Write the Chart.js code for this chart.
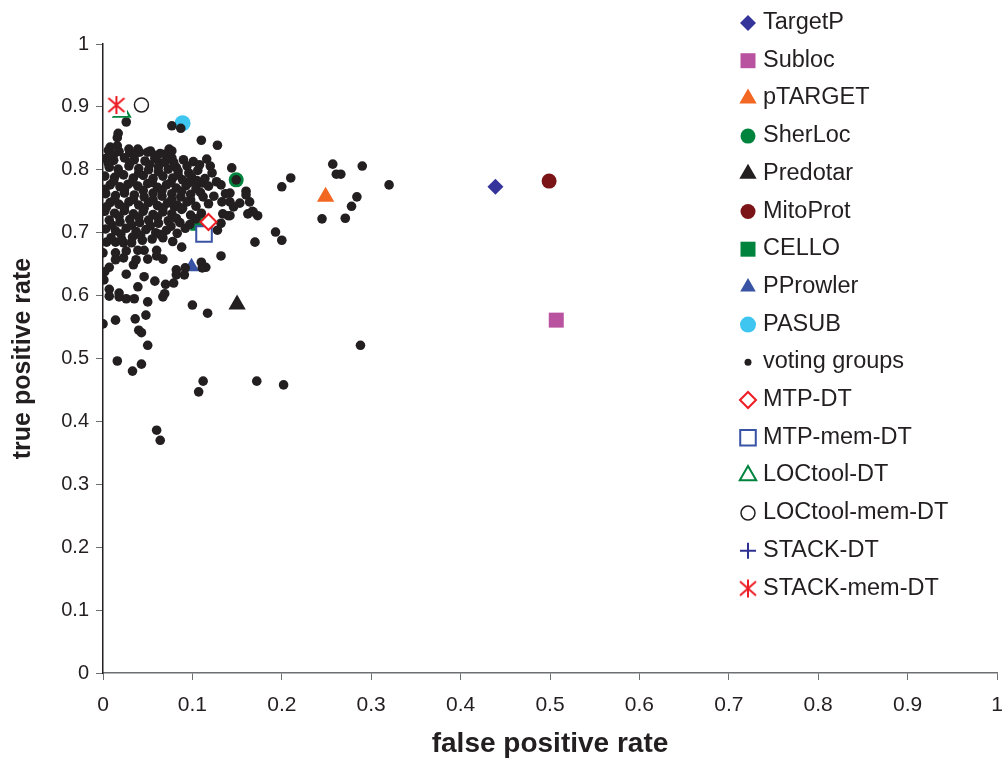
<!DOCTYPE html>
<html>
<head>
<meta charset="utf-8">
<script src="https://cdn.jsdelivr.net/npm/chart.js@4/dist/chart.umd.min.js"></script>
<style>
  body { margin: 0; background: #fff; }
  canvas { display: block; }
</style>
</head>
<body>
<canvas id="rocChart" width="1003" height="764"></canvas>
<script>
const xTickLabels = ["0", "0.1", "0.2", "0.3", "0.4", "0.5", "0.6", "0.7", "0.8", "0.9", "1"];
const yTickLabels = ["0", "0.1", "0.2", "0.3", "0.4", "0.5", "0.6", "0.7", "0.8", "0.9", "1"];

// single predictors
const toolNames = ["TargetP", "Subloc", "pTARGET", "SherLoc", "Predotar", "MitoProt", "CELLO", "PProwler", "PASUB"];
const toolFpr = [0.439, 0.507, 0.249, 0.149, 0.150, 0.499, 0.106, 0.099, 0.089];
const toolTpr = [0.773, 0.561, 0.757, 0.784, 0.586, 0.782, 0.715, 0.646, 0.874];

// decision tree combinations
const dtNames = ["MTP-DT", "MTP-mem-DT", "LOCtool-DT", "LOCtool-mem-DT", "STACK-DT", "STACK-mem-DT"];
const dtFpr = [0.118, 0.113, 0.021, 0.043, 0.015, 0.015];
const dtTpr = [0.717, 0.698, 0.892, 0.903, 0.903, 0.903];

// voting groups (fpr, tpr)
const votingPoints = [
  [0.026,0.876],[0.017,0.858],[0.016,0.851],[0.077,0.870],[0.087,0.866],[0.110,0.847],[0.128,0.839],
  [0.116,0.817],[0.120,0.806],[0.144,0.803],[0.149,0.784],
  [0.257,0.809],[0.290,0.806],[0.266,0.793],[0.261,0.793],[0.210,0.787],[0.200,0.773],[0.320,0.776],
  [0.284,0.757],[0.278,0.742],[0.245,0.722],[0.271,0.723],
  [0.193,0.701],[0.200,0.688],[0.170,0.685],[0.132,0.663],[0.115,0.645],[0.117,0.572],[0.288,0.521],
  [0.160,0.766],[0.160,0.760],[0.153,0.747],[0.167,0.734],[0.173,0.727],[0.162,0.730],[0.146,0.741],
  [0.140,0.727],[0.132,0.715],[0.128,0.704],
  [0.016,0.496],[0.033,0.480],[0.043,0.491],[0.112,0.464],[0.107,0.447],[0.172,0.464],[0.202,0.458],
  [0.060,0.386],[0.064,0.370],
  [0.100,0.585],[0.000,0.555],[0.014,0.561],[0.036,0.563],[0.048,0.569],[0.040,0.545],[0.043,0.541],[0.050,0.521],
  [0.002,0.638],[0.001,0.625],[0.007,0.610],[0.007,0.599],[0.018,0.604],[0.018,0.598],[0.026,0.595],
  [0.035,0.595],[0.050,0.590],[0.039,0.614],[0.046,0.630],[0.058,0.623],[0.026,0.634],[0.070,0.618],
  [0.079,0.620],[0.082,0.633],[0.091,0.633],[0.069,0.603],[0.067,0.598],[0.092,0.644],[0.110,0.653],[0.088,0.677],
  [0.007,0.645],[0.014,0.657],[0.023,0.660],[0.034,0.649],[0.037,0.657],[0.050,0.658],[0.060,0.663],
  [0.067,0.658],[0.060,0.672],[0.046,0.672],[0.039,0.672],[0.026,0.671],[0.014,0.668],[0.000,0.668],
  [0.004,0.685],[0.014,0.685],[0.032,0.684],[0.023,0.684],
  [0.082,0.641],[0.111,0.644],[0.089,0.739],[0.080,0.741],[0.134,0.730],[0.142,0.727],[0.168,0.733],
  [0.164,0.749],[0.142,0.749],[0.133,0.749],
  [0.122,0.795],[0.106,0.799],[0.096,0.795],[0.077,0.830],[0.077,0.819],[0.082,0.804],[0.127,0.781],
  [0.111,0.779],[0.142,0.763],
  [0.008,0.836],[0.016,0.838],[0.039,0.833],[0.050,0.828],[0.030,0.827],[0.070,0.825],[0.074,0.833],[0.063,0.811],
  // dense core
  [0.006,0.831],[0.018,0.829],[0.029,0.833],[0.041,0.828],[0.053,0.830],[0.064,0.826],
  [0.003,0.818],[0.012,0.815],[0.024,0.819],[0.035,0.816],[0.047,0.814],[0.058,0.818],[0.069,0.812],[0.090,0.816],[0.101,0.813],
  [0.007,0.804],[0.017,0.801],[0.029,0.806],[0.040,0.802],[0.051,0.800],[0.062,0.805],[0.073,0.801],[0.084,0.798],[0.094,0.806],[0.108,0.808],
  [0.002,0.790],[0.013,0.788],[0.023,0.792],[0.034,0.787],[0.045,0.791],[0.056,0.786],[0.067,0.790],[0.078,0.787],[0.089,0.784],[0.099,0.789],[0.114,0.786],
  [0.008,0.776],[0.019,0.773],[0.028,0.777],[0.039,0.774],[0.050,0.778],[0.061,0.772],[0.071,0.776],[0.082,0.771],[0.093,0.775],[0.104,0.770],[0.118,0.774],[0.132,0.776],
  [0.003,0.762],[0.014,0.759],[0.024,0.763],[0.035,0.760],[0.046,0.757],[0.056,0.763],[0.066,0.758],[0.077,0.762],[0.087,0.757],[0.098,0.761],[0.109,0.764],[0.124,0.758],[0.137,0.762],
  [0.008,0.748],[0.018,0.745],[0.029,0.749],[0.040,0.744],[0.051,0.748],[0.061,0.743],[0.072,0.747],[0.083,0.744],[0.094,0.749],[0.104,0.742],[0.118,0.746],
  [0.002,0.734],[0.013,0.731],[0.024,0.735],[0.034,0.730],[0.045,0.734],[0.056,0.729],[0.067,0.733],[0.077,0.730],[0.098,0.728],[0.110,0.731],
  [0.007,0.720],[0.019,0.717],[0.030,0.721],[0.041,0.716],[0.051,0.720],[0.062,0.715],[0.073,0.719],[0.086,0.716],[0.097,0.713],
  [0.003,0.706],[0.014,0.703],[0.026,0.707],[0.037,0.702],[0.048,0.705],[0.059,0.700],[0.071,0.704],[0.083,0.699],[0.092,0.707],
  [0.009,0.692],[0.021,0.689],[0.033,0.693],[0.044,0.688],[0.055,0.690],[0.067,0.692],[0.078,0.686],
  [0.012,0.824],[0.035,0.823],[0.058,0.823],[0.006,0.810],[0.030,0.811],[0.052,0.808],[0.079,0.812],
  [0.018,0.796],[0.040,0.795],[0.062,0.797],[0.084,0.792],[0.105,0.783],[0.012,0.782],[0.033,0.781],
  [0.055,0.780],[0.076,0.780],[0.097,0.780],[0.002,0.769],[0.024,0.768],[0.045,0.767],[0.066,0.767],
  [0.088,0.766],[0.112,0.757],[0.013,0.753],[0.034,0.753],[0.056,0.752],[0.077,0.753],[0.098,0.752],
  [0.004,0.741],[0.024,0.740],[0.046,0.739],[0.067,0.739],[0.088,0.737],[0.018,0.726],[0.040,0.725],
  [0.061,0.725],[0.082,0.723],[0.104,0.722],[0.010,0.712],[0.032,0.712],[0.053,0.711],[0.076,0.710],
  [0.020,0.698],[0.042,0.696],[0.064,0.697]
];

const FONT = '"Liberation Sans", Arial, Helvetica, sans-serif';
const TEXT = "#231f20";
Chart.defaults.font.family = FONT;

// red asterisk marker (vertical bar + X) on a small white patch
const asterisk = document.createElement("canvas");
asterisk.width = 22;
asterisk.height = 22;
(function () {
  const c = asterisk.getContext("2d");
  c.fillStyle = "#fff";
  c.fillRect(0, 0, 22, 22);
  c.strokeStyle = "#ed1c24";
  c.lineWidth = 2;
  c.beginPath();
  c.moveTo(11, 2); c.lineTo(11, 20);
  c.moveTo(3, 4); c.lineTo(19, 18);
  c.moveTo(19, 4); c.lineTo(3, 18);
  c.stroke();
})();

// marker styles, same order as the legend
const toolStyles = [
  { pointStyle: "rectRot", radius: 8, bg: "#34349a", border: "#34349a", bw: 0 },
  { pointStyle: "rect", radius: 10.6, bg: "#b9529f", border: "#b9529f", bw: 0 },
  { pointStyle: "triangle", radius: 10, bg: "#f26722", border: "#f26722", bw: 0 },
  { pointStyle: "circle", radius: 7.5, bg: "#00843d", border: "#00843d", bw: 0 },
  { pointStyle: "triangle", radius: 10, bg: "#231f20", border: "#231f20", bw: 0 },
  { pointStyle: "circle", radius: 7.5, bg: "#7b1416", border: "#7b1416", bw: 0 },
  { pointStyle: "rect", radius: 10.6, bg: "#00843d", border: "#00843d", bw: 0 },
  { pointStyle: "triangle", radius: 9, bg: "#3853a4", border: "#3853a4", bw: 0 },
  { pointStyle: "circle", radius: 8, bg: "#3ec6f0", border: "#3ec6f0", bw: 0 }
];
const votingStyle = { pointStyle: "circle", radius: 4.8, bg: "#231f20", border: "#231f20", bw: 0 };
const dtStyles = [
  { pointStyle: "rectRot", radius: 8, bg: "#fff", border: "#ed1c24", bw: 2 },
  { pointStyle: "rect", radius: 11, bg: "#fff", border: "#3853a4", bw: 2 },
  { pointStyle: "triangle", radius: 9.5, bg: "#fff", border: "#00843d", bw: 2 },
  { pointStyle: "circle", radius: 7, bg: "#fff", border: "#231f20", bw: 1.5 },
  { pointStyle: "cross", radius: 8, bg: "#2e3192", border: "#2e3192", bw: 2 },
  { pointStyle: asterisk, radius: 9, bg: "#ed1c24", border: "#ed1c24", bw: 2 }
];

function makeDataset(label, data, st, order) {
  return {
    label: label,
    data: data,
    pointStyle: st.pointStyle,
    pointRadius: st.radius,
    pointBackgroundColor: st.bg,
    pointBorderColor: st.border,
    pointBorderWidth: st.bw,
    pointHoverRadius: st.radius,
    showLine: false,
    order: order
  };
}

const datasets = [];
dtNames.forEach((name, i) => {
  datasets.push(makeDataset(name, [{ x: dtFpr[i], y: dtTpr[i] }], dtStyles[i], i === 5 ? 0 : 1));
});
datasets.push(makeDataset("voting groups", votingPoints.map((p) => ({ x: p[0], y: p[1] })), votingStyle, 2));
toolNames.forEach((name, i) => {
  datasets.push(makeDataset(name, [{ x: toolFpr[i], y: toolTpr[i] }], toolStyles[i], 3));
});

// legend entries as drawn on the right
const legendItems = [];
toolNames.forEach((n, i) => legendItems.push({ label: n, st: toolStyles[i] }));
legendItems.push({ label: "voting groups", st: Object.assign({}, votingStyle, { radius: 3.5 }) });
dtNames.forEach((n, i) => legendItems.push({ label: n, st: dtStyles[i] }));

const sideLegend = {
  id: "sideLegend",
  afterDraw(chart) {
    const ctx = chart.ctx;
    ctx.save();
    legendItems.forEach((item, i) => {
      const y = 23 + i * 37.7;
      const st = item.st;
      ctx.fillStyle = st.bg;
      ctx.strokeStyle = st.border;
      ctx.lineWidth = st.bw;
      ctx.beginPath();
      Chart.helpers.drawPoint(ctx, { pointStyle: st.pointStyle, radius: st.radius, rotation: 0, borderWidth: st.bw }, 748, y);
      ctx.fillStyle = TEXT;
      ctx.font = "23.5px " + FONT;
      ctx.textAlign = "left";
      ctx.textBaseline = "alphabetic";
      ctx.fillText(item.label, 763, y + 6);
    });
    ctx.restore();
  }
};

new Chart(document.getElementById("rocChart"), {
  type: "scatter",
  data: { datasets: datasets },
  plugins: [sideLegend],
  options: {
    responsive: false,
    animation: false,
    layout: { autoPadding: false, padding: { left: 0, right: 6, top: 44, bottom: 0 } },
    plugins: {
      legend: { display: false },
      tooltip: { enabled: false }
    },
    scales: {
      x: {
        type: "linear",
        min: 0,
        max: 1,
        ticks: {
          stepSize: 0.1,
          color: TEXT,
          font: { size: 21 },
          padding: 13,
          maxRotation: 0,
          callback: (value, index) => xTickLabels[index]
        },
        grid: { drawOnChartArea: false, tickLength: 7, color: "#6d6e71" },
        border: { color: "#6d6e71", width: 1.5 },
        title: {
          display: true,
          text: "false positive rate",
          color: TEXT,
          font: { size: 28, weight: "bold" },
          padding: { top: 0, bottom: 3 }
        },
        afterFit: (scale) => {
          scale.height = 91;
          scale.paddingLeft = 0;
          scale.paddingRight = 0;
        }
      },
      y: {
        type: "linear",
        min: 0,
        max: 1,
        ticks: {
          stepSize: 0.1,
          color: TEXT,
          font: { size: 20 },
          padding: 7,
          callback: (value, index) => yTickLabels[index]
        },
        grid: { drawOnChartArea: false, tickLength: 7, color: "#6d6e71" },
        border: { color: "#231f20", width: 1.5 },
        title: {
          display: true,
          text: "true positive rate",
          color: TEXT,
          font: { size: 25, weight: "bold" },
          padding: { top: 8, bottom: 0 }
        },
        afterFit: (scale) => {
          scale.width = 103;
          scale.paddingTop = 0;
          scale.paddingBottom = 0;
        }
      }
    }
  }
});
</script>
</body>
</html>
